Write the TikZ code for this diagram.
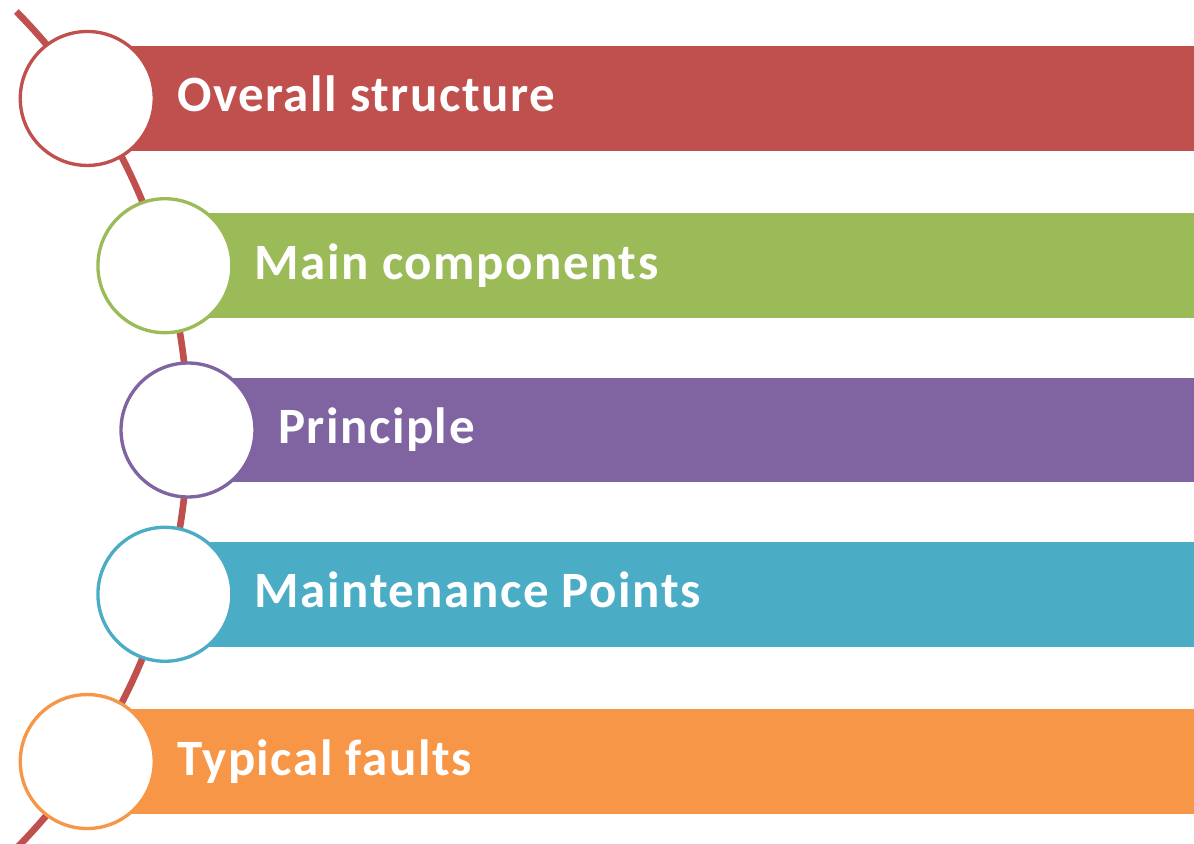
\documentclass[tikz,border=0pt]{standalone}
\usepackage{fontspec}
\setmainfont{Carlito}
\newfontfamily\capfont[LetterSpace=3]{Carlito}
\usetikzlibrary{positioning}
\definecolor{stepRed}{HTML}{C0504D}
\definecolor{stepGreen}{HTML}{9BBB59}
\definecolor{stepPurple}{HTML}{8064A2}
\definecolor{stepBlue}{HTML}{4BACC6}
\definecolor{stepOrange}{HTML}{F79646}
\tikzstyle{spine} = [draw=stepRed, line width=3.8pt]
\tikzstyle{band} = [rectangle, anchor=west, minimum width=23cm, minimum height=2.1cm, inner sep=0pt]
\tikzstyle{ring} = [circle, draw, fill=white, line width=1.9pt, minimum size=2.68cm, inner sep=0pt]
\tikzstyle{caption} = [text=white, inner sep=0pt, font=\capfont\bfseries\fontsize{29}{33}\selectfont]

\begin{document}
\begin{tikzpicture}[x=0.02cm, y=0.02cm]
        \useasboundingbox (0,0) rectangle (1194,843);
        % centre of the big arc the rings sit on
        \coordinate (hub) at (-408,413);
        \coordinate (p1) at ([shift={(33.8:596)}]hub);
        \coordinate (p2) at ([shift={(16:596)}]hub);
        \coordinate (p3) at ([shift={(0:596)}]hub);
        \coordinate (p4) at ([shift={(-16:596)}]hub);
        \coordinate (p5) at ([shift={(-33.8:596)}]hub);
        \draw [spine] ([shift={(44.6:596)}]hub) arc[start angle=44.6, end angle=-47, radius=11.92cm];
        % coloured bands
        \node (band-1) [band, fill=stepRed] at (p1) {};
        \node (band-2) [band, fill=stepGreen] at (p2) {};
        \node (band-3) [band, fill=stepPurple] at (p3) {};
        \node (band-4) [band, fill=stepBlue] at (p4) {};
        \node (band-5) [band, fill=stepOrange] at (p5) {};
        % rings
        \node (ring-1) [ring, draw=stepRed] at (p1) {};
        \node (ring-2) [ring, draw=stepGreen] at (p2) {};
        \node (ring-3) [ring, draw=stepPurple] at (p3) {};
        \node (ring-4) [ring, draw=stepBlue] at (p4) {};
        \node (ring-5) [ring, draw=stepOrange] at (p5) {};
        % captions
        \node (text-1) [caption, right=0.42cm of ring-1, anchor=base west, yshift=-0.27cm] {Overall structure};
        \node (text-2) [caption, right=0.42cm of ring-2, anchor=base west, yshift=-0.27cm] {Main components};
        \node (text-3) [caption, right=0.42cm of ring-3, anchor=base west, yshift=-0.27cm] {Principle};
        \node (text-4) [caption, right=0.42cm of ring-4, anchor=base west, yshift=-0.27cm] {Maintenance Points};
        \node (text-5) [caption, right=0.42cm of ring-5, anchor=base west, yshift=-0.27cm] {Typical faults};
    \end{tikzpicture}
\end{document}
